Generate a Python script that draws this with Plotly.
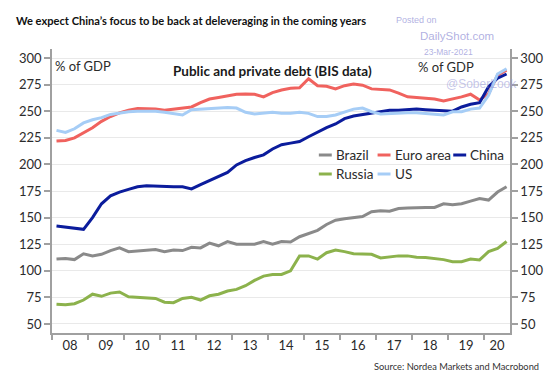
import plotly.graph_objects as go

# ---------------- data (quarterly, 2008Q1 .. 2020Q3, % of GDP) ----------------
start_year = 2008
n_quarters = 51
year_labels = ["08", "09", "10", "11", "12", "13", "14", "15", "16", "17", "18", "19", "20"]
y_ticks = [50, 75, 100, 125, 150, 175, 200, 225, 250, 275, 300]

brazil = [111, 111.5, 110.5, 116,
          114, 115.5, 119, 121.5,
          118, 118.5, 119, 120,
          118, 119.5, 119, 122,
          121.5, 126, 123.5, 127.5,
          125, 125, 125, 127.5,
          125, 127.5, 127, 132,
          135, 138, 143.5, 147.5,
          149, 150, 151, 155.5,
          156.5, 156, 158.5, 159,
          159.5, 159.5, 159.5, 163,
          162, 163, 165.5, 168,
          166.5, 174, 179]

euro_area = [222, 222.5, 225, 229.5,
             234.5, 240.5, 245, 248.5,
             251, 252.5, 252.5, 252,
             251, 252, 253, 254,
             258, 261.5, 263, 264.5,
             266, 266.2, 266, 263.5,
             267.5, 270, 271.5, 272,
             280.5, 274, 273.5, 271,
             274, 275.5, 274.5, 271,
             270.5, 270, 267, 263.5,
             263, 262.5, 261.5, 259.7,
             261.5, 263.5, 266, 260.5,
             266.5, 284, 288.5]

china = [142, 141, 140, 139,
         150, 163, 170.5, 174,
         176.5, 179, 180, 179.5,
         179, 179, 179, 177,
         181, 185, 188.5, 192.5,
         199.5, 203.5, 206.5, 209,
         214.5, 218.5, 220, 221.5,
         226, 230.5, 234.5, 238,
         243, 245.5, 247, 248.5,
         250, 251, 251, 251.5,
         252, 251.5, 251, 250,
         250, 254, 256.5, 258,
         273, 281, 285]

russia = [68.5, 68, 69, 72.5,
          78, 76, 79, 80,
          75.5, 75, 75, 74,
          70.5, 70, 74, 75,
          72.5, 76.5, 78, 81,
          82.5, 86, 91, 95,
          96.5, 96.5, 100, 114,
          114, 111, 117, 119.5,
          118, 116, 115.8, 115.5,
          112, 113.3, 114, 114,
          112.7, 112.5, 111.4, 110.5,
          108.6, 108.6, 111, 110.2,
          118, 121, 127.5]

us = [232, 230, 233.5, 239,
      242, 244, 247, 248.5,
      249.5, 250, 250, 250,
      249, 247.5, 246.5, 251.5,
      252, 252.5, 253, 253.5,
      253, 249, 247.5, 248,
      249, 248, 248, 249,
      248, 245, 245, 246.5,
      249.5, 252, 253, 249.5,
      247.5, 248, 248, 248.5,
      248.5, 248, 247, 246.5,
      249.5, 249.5, 252, 253,
      265, 285, 290]

series_names = ["Brazil", "Euro area", "China", "Russia", "US"]
series_values = [brazil, euro_area, china, russia, us]
series_colors = ["#8a8a8a", "#f0625e", "#0b1c9c", "#8cb24c", "#a6cdf6"]
# the last series is drawn against the right-hand axis (same scale) so that axis is shown
series_yaxis = ["y", "y", "y", "y", "y2"]

# x position of each quarter = middle of the quarter, in decimal years
x_q = [start_year + (i + 0.5) * 0.25 for i in range(n_quarters)]
year_ticks = [start_year + i for i in range(len(year_labels))]
x_end = 2020.72
label_pos = [y + 0.5 for y in year_ticks[:-1]] + [(year_ticks[-1] + x_end) / 2]
y_range = [41.5, 308.5]

FONT = "Lato"
TXT = "#2b2b2b"
AXC = "#a0a0a0"

fig = go.Figure()
for name, vals, col, ya in zip(series_names, series_values, series_colors, series_yaxis):
    fig.add_trace(go.Scatter(x=x_q, y=vals, name=name, mode="lines", yaxis=ya,
                             line=dict(color=col, width=3), showlegend=False))

# plot area in pixels
L, R, T, B = 52, 43, 49, 42
W, H = 555, 375
PW, PH = W - L - R, H - T - B


def px(x):
    return (x - L) / PW


def py(y):
    return (H - B - y) / PH


fig.update_layout(
    width=W, height=H,
    margin=dict(l=L, r=R, t=T, b=B),
    paper_bgcolor="white", plot_bgcolor="white",
    font=dict(family=FONT, color=TXT, size=13),
    xaxis=dict(range=[start_year, x_end], tickvals=label_pos, ticktext=year_labels,
               ticks="", showline=True, linecolor=AXC, linewidth=1.5,
               showgrid=False, zeroline=False, tickfont=dict(size=13, color=TXT),
               minor=dict(tickvals=year_ticks, ticks="outside", ticklen=5,
                          tickcolor=AXC, tickwidth=1.5, showgrid=False)),
    yaxis=dict(range=y_range, tickvals=y_ticks, ticks="outside", ticklen=6, tickwidth=1.5,
               tickcolor=AXC, showline=True, linecolor=AXC, linewidth=1.5,
               gridcolor="#e9e9e9", gridwidth=1, zeroline=False,
               tickfont=dict(size=13, color=TXT)),
    yaxis2=dict(range=y_range, overlaying="y", anchor="x", side="right",
                tickvals=y_ticks, ticks="outside", ticklen=6, tickwidth=1.5, tickcolor=AXC,
                showline=True, linecolor=AXC, linewidth=1.5, showgrid=False,
                zeroline=False, tickfont=dict(size=13, color=TXT)),
)

ann = []
# headline
ann.append(dict(text="We expect China’s focus to be back at deleveraging in the coming years",
                x=px(14), y=py(20), xanchor="left", yanchor="middle",
                font=dict(size=11.1, weight="bold", color="#111111")))
# inner title
ann.append(dict(text="Public and private debt (BIS data)", x=px(273), y=py(71),
                xanchor="center", yanchor="middle",
                font=dict(size=13.5, weight="bold", color="#1a1a1a")))
ann.append(dict(text="% of GDP", x=px(53), y=py(66), xanchor="left", yanchor="middle",
                font=dict(size=13)))
ann.append(dict(text="% of GDP", x=px(478), y=py(67), xanchor="right", yanchor="middle",
                font=dict(size=13)))
# source
ann.append(dict(text="Source: Nordea Markets and Macrobond", x=px(543), y=py(366),
                xanchor="right", yanchor="middle", font=dict(size=9.3, color="#333333")))
# watermark
WM = "rgba(150,150,215,0.75)"
ann.append(dict(text="Posted on", x=px(418), y=py(20), xanchor="center", yanchor="middle",
                font=dict(size=9, color=WM, family="Liberation Sans")))
ann.append(dict(text="DailyShot.com", x=px(459), y=py(36), xanchor="center", yanchor="middle",
                font=dict(size=11.5, color=WM, family="Liberation Sans")))
ann.append(dict(text="23-Mar-2021", x=px(450), y=py(52), xanchor="center", yanchor="middle",
                font=dict(size=8.5, color=WM, family="Liberation Sans")))
ann.append(dict(text="@SoberLook", x=px(483), y=py(84), xanchor="center", yanchor="middle",
                font=dict(size=12, color="rgba(150,150,215,0.55)", family="Liberation Sans")))

# legend (compact, two rows)
legend_pos = [(320, 155), (379, 155), (455, 155), (320, 174), (379, 174)]
shapes = []
for name, col, (lx, ly) in zip(series_names, series_colors, legend_pos):
    shapes.append(dict(type="line", xref="paper", yref="paper", x0=px(lx), x1=px(lx + 13),
                       y0=py(ly), y1=py(ly), line=dict(color=col, width=3)))
    ann.append(dict(text=name, x=px(lx + 15), y=py(ly), xanchor="left", yanchor="middle",
                    font=dict(size=13.5, color=TXT)))

for a in ann:
    a.update(xref="paper", yref="paper", showarrow=False)
fig.update_layout(annotations=ann, shapes=shapes)

fig.write_html("out.html", config={"displayModeBar": False},
               post_script="document.body.style.margin='0';")
